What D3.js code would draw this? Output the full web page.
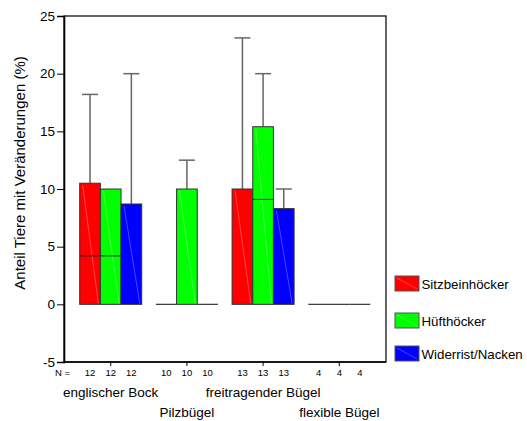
<!DOCTYPE html>
<html><head><meta charset="utf-8">
<script src="https://cdn.jsdelivr.net/npm/d3@7"></script>
<style>body{margin:0;background:#fff}svg{display:block;font-family:"Liberation Sans",Arial,sans-serif}</style>
</head><body><svg id="c" width="527" height="421"></svg>
<script>
const groups = ["englischer Bock","Pilzbügel","freitragender Bügel","flexible Bügel"];
const seriesNames = ["Sitzbeinhöcker","Hüfthöcker","Widerrist/Nacken"];
const seriesColors = ["#ff0000","#00ff00","#0000ff"];
const nCounts = [12,10,13,4];
// box: Q1 = 0, upper hinge (q3), median, upper whisker (max)
const sitzQ3 = [10.5, 0, 10, 0];
const sitzMedian = [4.2, 0, 0, 0];
const sitzMax = [18.2, 0, 23.1, 0];
const huftQ3 = [10, 10, 15.4, 0];
const huftMedian = [4.2, 0, 9.1, 0];
const huftMax = [10, 12.5, 20, 0];
const widQ3 = [8.7, 0, 8.3, 0];
const widMedian = [0, 0, 0, 0];
const widMax = [20, 0, 10, 0];
const yTicks = [-5,0,5,10,15,20,25];

const q3s=[sitzQ3,huftQ3,widQ3], meds=[sitzMedian,huftMedian,widMedian], maxs=[sitzMax,huftMax,widMax];
const svg=d3.select("#c");
const L=64,R=386,T=16,B=362;
const y=d3.scaleLinear().domain([-5,25]).range([B,T]);
const x=d3.scaleBand().domain(groups).range([L,R]).paddingInner(0).paddingOuter(0.113);
const xs=d3.scaleBand().domain(seriesNames).range([-31,31]).padding(0);

// boxes
groups.forEach((g,gi)=>{
  const cx=x(g)+x.bandwidth()/2;
  seriesNames.forEach((s,si)=>{
    const x0=cx+xs(s), w=xs.bandwidth(), xm=x0+w/2;
    const top=y(q3s[si][gi]), bot=y(0);
    if(maxs[si][gi]>q3s[si][gi]){
      svg.append("line").attr("x1",xm).attr("x2",xm).attr("y1",top).attr("y2",y(maxs[si][gi])).attr("stroke","#666").attr("stroke-width",1.5);
      svg.append("line").attr("x1",xm-8).attr("x2",xm+8).attr("y1",y(maxs[si][gi])).attr("y2",y(maxs[si][gi])).attr("stroke","#666").attr("stroke-width",1.5);
    }
    if(bot-top>0){
      svg.append("rect").attr("x",x0).attr("y",top).attr("width",w).attr("height",bot-top)
        .attr("fill",seriesColors[si]).attr("stroke","#333").attr("stroke-width",1);
      svg.append("line").attr("x1",x0+3).attr("y1",top+2).attr("x2",x0+w-2).attr("y2",bot-1)
        .attr("stroke","#fff").attr("stroke-opacity",0.35).attr("stroke-width",0.8);
      if(meds[si][gi]>0){
        svg.append("line").attr("x1",x0).attr("x2",x0+w).attr("y1",y(meds[si][gi])).attr("y2",y(meds[si][gi])).attr("stroke","#222").attr("stroke-width",1);
      }
    } else {
      svg.append("line").attr("x1",x0).attr("x2",x0+w).attr("y1",bot).attr("y2",bot).attr("stroke","#333").attr("stroke-width",1.2);
    }
  });
});

// frame
svg.append("rect").attr("x",L).attr("y",T).attr("width",R-L).attr("height",B-T).attr("fill","none").attr("stroke","#000").attr("stroke-width",1.2);
// y axis
const ya=svg.append("g").attr("transform",`translate(${L},0)`).call(d3.axisLeft(y).tickValues(yTicks).tickSize(7).tickPadding(2).tickFormat(d=>String(d)));
ya.select(".domain").attr("stroke","#000").attr("stroke-width",1.6);
ya.selectAll(".tick line").attr("stroke","#000");
ya.selectAll("text").attr("font-size",13.5).attr("font-family","Liberation Sans, Arial").attr("fill","#000");
// x axis
const xa=svg.append("g").attr("transform",`translate(0,${B})`).call(d3.axisBottom(x).tickSize(4).tickFormat(""));
xa.select(".domain").attr("stroke","#000").attr("stroke-width",1.6).attr("d",`M${L},0H${R}`);
xa.selectAll(".tick line").attr("stroke","#000");

// N labels
svg.append("text").attr("x",55).attr("y",376).attr("font-size",9.5).text("N =");
groups.forEach((g,gi)=>{
  const cx=x(g)+x.bandwidth()/2;
  seriesNames.forEach(s=>{
    svg.append("text").attr("x",cx+xs(s)+xs.bandwidth()/2).attr("y",376).attr("text-anchor","middle").attr("font-size",9.5).text(nCounts[gi]);
  });
  svg.append("text").attr("x",cx).attr("y",gi%2===0?397:416.5).attr("text-anchor","middle").attr("font-size",13.5).text(g);
});

// y title
svg.append("text").attr("transform","translate(25,173) rotate(-90)").attr("text-anchor","middle").attr("font-size",15).text("Anteil Tiere mit Veränderungen (%)");

// legend
const legY=[276,313,346];
seriesNames.forEach((s,i)=>{
  svg.append("rect").attr("x",395).attr("y",legY[i]).attr("width",24).attr("height",15).attr("fill",seriesColors[i]).attr("stroke","#555").attr("stroke-width",1);
  svg.append("line").attr("x1",397).attr("y1",legY[i]+2).attr("x2",417).attr("y2",legY[i]+13).attr("stroke","#fff").attr("stroke-opacity",0.35).attr("stroke-width",0.8);
  svg.append("text").attr("x",421.5).attr("y",legY[i]+12.5).attr("font-size",13.3).text(s);
});
</script></body></html>
